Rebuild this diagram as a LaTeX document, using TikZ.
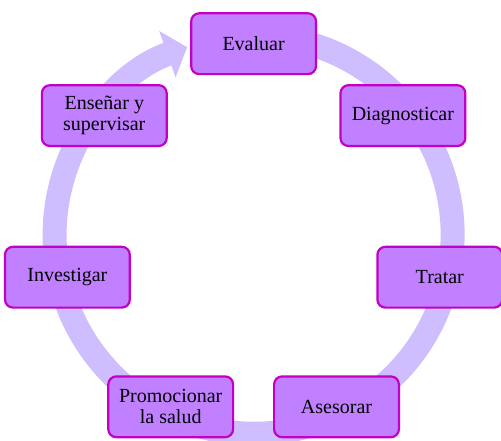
\documentclass[tikz,border=0pt]{standalone}
\usepackage{fontspec}
\setmainfont{Liberation Serif}
\usetikzlibrary{arrows.meta}
\definecolor{anillo}{RGB}{206,190,255}
\definecolor{relleno}{RGB}{192,128,255}
\definecolor{borde}{RGB}{195,0,195}
\begin{document}
\begin{tikzpicture}[x=1pt,y=1pt,every node/.style={draw=borde,fill=relleno,line width=2.2pt,rounded corners=8pt,align=center,minimum width=124.8pt,minimum height=60.8pt,inner sep=2pt,font=\fontsize{20}{21}\selectfont}]
\useasboundingbox (0,0) rectangle (501,-440);
\coordinate (o) at (253.6,-234.7);
\draw[anillo,line width=24pt,-{Triangle[width=48pt,length=21pt]}] ([shift={(80:199)}]o) arc[start angle=80,end angle=-250.5,radius=199];
\node (a) at (253.6,-43.7) {Evaluar};
\node (b) at (402.9,-115.6) {Diagnosticar};
\node (c) at (439.8,-277.2) {Tratar};
\node (d) at (336.5,-406.8) {Asesorar};
\node (e) at (170.7,-406.8) {Promocionar\\la salud};
\node (f) at (67.4,-277.2) {Investigar};
\node (g) at (104.3,-115.6) {Enseñar y\\supervisar};
\end{tikzpicture}
\end{document}
